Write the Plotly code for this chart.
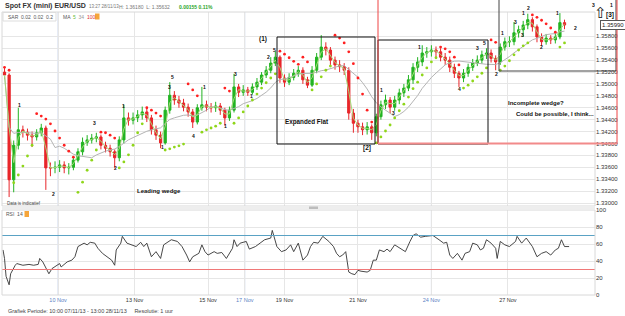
import plotly.graph_objects as go
import pandas as pd

# ---------------- data (EUR/USD, 3-hour candles) ----------------
candle_hour = list(range(1, 369, 3))  # hour index since 07/11/13 10:00 (weekend hours removed)

open_ = [1.3520, 1.3515, 1.3339, 1.3397, 1.3423, 1.3419, 1.3414, 1.3411, 1.3418, 1.3426,
         1.3359, 1.3359, 1.3360, 1.3364, 1.3359, 1.3360, 1.3372, 1.3386, 1.3402, 1.3406,
         1.3409, 1.3411, 1.3397, 1.3392, 1.3386, 1.3376, 1.3406, 1.3443, 1.3439, 1.3443,
         1.3448, 1.3453, 1.3443, 1.3423, 1.3414, 1.3401, 1.3456, 1.3481, 1.3473, 1.3468,
         1.3461, 1.3453, 1.3436, 1.3460, 1.3465, 1.3461, 1.3460, 1.3463, 1.3456, 1.3443,
         1.3456, 1.3495, 1.3486, 1.3490, 1.3486, 1.3495, 1.3503, 1.3515, 1.3523, 1.3535,
         1.3545, 1.3510, 1.3503, 1.3511, 1.3518, 1.3523, 1.3507, 1.3498, 1.3523, 1.3545,
         1.3562, 1.3557, 1.3540, 1.3532, 1.3529, 1.3523, 1.3451, 1.3434, 1.3428, 1.3423,
         1.3428, 1.3418, 1.3445, 1.3465, 1.3473, 1.3461, 1.3473, 1.3485, 1.3493, 1.3507,
         1.3528, 1.3537, 1.3552, 1.3554, 1.3557, 1.3554, 1.3545, 1.3540, 1.3528, 1.3518,
         1.3510, 1.3518, 1.3528, 1.3535, 1.3540, 1.3549, 1.3552, 1.3543, 1.3537, 1.3562,
         1.3571, 1.3571, 1.3586, 1.3591, 1.3599, 1.3608, 1.3596, 1.3579, 1.3571, 1.3577,
         1.3574, 1.3579, 1.3603]

close = [1.3515, 1.3339, 1.3397, 1.3423, 1.3419, 1.3414, 1.3411, 1.3418, 1.3426, 1.3359,
         1.3359, 1.3360, 1.3364, 1.3359, 1.3360, 1.3372, 1.3386, 1.3402, 1.3406, 1.3409,
         1.3411, 1.3397, 1.3392, 1.3386, 1.3376, 1.3406, 1.3443, 1.3439, 1.3443, 1.3448,
         1.3453, 1.3443, 1.3423, 1.3414, 1.3401, 1.3456, 1.3481, 1.3473, 1.3468, 1.3461,
         1.3453, 1.3436, 1.3460, 1.3465, 1.3461, 1.3460, 1.3463, 1.3456, 1.3443, 1.3456,
         1.3495, 1.3486, 1.3490, 1.3486, 1.3495, 1.3503, 1.3515, 1.3523, 1.3535, 1.3545,
         1.3510, 1.3503, 1.3511, 1.3518, 1.3523, 1.3507, 1.3498, 1.3523, 1.3545, 1.3562,
         1.3557, 1.3540, 1.3532, 1.3529, 1.3523, 1.3451, 1.3434, 1.3428, 1.3423, 1.3428,
         1.3418, 1.3445, 1.3465, 1.3473, 1.3461, 1.3473, 1.3485, 1.3493, 1.3507, 1.3528,
         1.3537, 1.3552, 1.3554, 1.3557, 1.3554, 1.3545, 1.3540, 1.3528, 1.3518, 1.3510,
         1.3518, 1.3528, 1.3535, 1.3540, 1.3549, 1.3552, 1.3543, 1.3537, 1.3562, 1.3571,
         1.3571, 1.3586, 1.3591, 1.3599, 1.3608, 1.3596, 1.3579, 1.3571, 1.3577, 1.3574,
         1.3579, 1.3603, 1.3599]

high = [1.3527, 1.3518, 1.3405, 1.3460, 1.3430, 1.3425, 1.3420, 1.3424, 1.3433, 1.3430,
        1.3368, 1.3370, 1.3372, 1.3370, 1.3367, 1.3378, 1.3392, 1.3410, 1.3414, 1.3416,
        1.3418, 1.3415, 1.3403, 1.3398, 1.3390, 1.3412, 1.3465, 1.3452, 1.3452, 1.3456,
        1.3462, 1.3460, 1.3448, 1.3430, 1.3420, 1.3462, 1.3503, 1.3488, 1.3480, 1.3475,
        1.3467, 1.3458, 1.3466, 1.3495, 1.3472, 1.3468, 1.3470, 1.3468, 1.3460, 1.3462,
        1.3517, 1.3500, 1.3498, 1.3495, 1.3501, 1.3510, 1.3520, 1.3530, 1.3545, 1.3555,
        1.3548, 1.3516, 1.3518, 1.3525, 1.3530, 1.3528, 1.3512, 1.3530, 1.3552, 1.3582,
        1.3570, 1.3562, 1.3546, 1.3540, 1.3535, 1.3528, 1.3458, 1.3440, 1.3435, 1.3436,
        1.3432, 1.3450, 1.3472, 1.3482, 1.3478, 1.3480, 1.3492, 1.3500, 1.3515, 1.3535,
        1.3545, 1.3565, 1.3562, 1.3565, 1.3563, 1.3560, 1.3552, 1.3546, 1.3534, 1.3522,
        1.3525, 1.3534, 1.3542, 1.3548, 1.3556, 1.3560, 1.3558, 1.3548, 1.3568, 1.3578,
        1.3580, 1.3604, 1.3598, 1.3606, 1.3618, 1.3612, 1.3600, 1.3585, 1.3584, 1.3582,
        1.3586, 1.3619, 1.3608]

low = [1.3508, 1.3310, 1.3318, 1.3390, 1.3410, 1.3405, 1.3394, 1.3405, 1.3412, 1.3322,
       1.3345, 1.3350, 1.3352, 1.3350, 1.3348, 1.3355, 1.3368, 1.3380, 1.3396, 1.3400,
       1.3402, 1.3390, 1.3385, 1.3378, 1.3359, 1.3370, 1.3400, 1.3430, 1.3432, 1.3436,
       1.3440, 1.3436, 1.3415, 1.3406, 1.3392, 1.3398, 1.3450, 1.3465, 1.3460, 1.3454,
       1.3445, 1.3426, 1.3432, 1.3455, 1.3454, 1.3452, 1.3453, 1.3448, 1.3430, 1.3438,
       1.3452, 1.3478, 1.3480, 1.3480, 1.3482, 1.3490, 1.3498, 1.3510, 1.3518, 1.3530,
       1.3502, 1.3495, 1.3498, 1.3506, 1.3512, 1.3500, 1.3493, 1.3495, 1.3518, 1.3540,
       1.3548, 1.3532, 1.3524, 1.3520, 1.3515, 1.3440, 1.3418, 1.3418, 1.3414, 1.3415,
       1.3406, 1.3412, 1.3440, 1.3458, 1.3451, 1.3455, 1.3466, 1.3478, 1.3488, 1.3500,
       1.3520, 1.3530, 1.3544, 1.3546, 1.3545, 1.3538, 1.3532, 1.3520, 1.3510, 1.3495,
       1.3503, 1.3512, 1.3522, 1.3530, 1.3534, 1.3542, 1.3536, 1.3523, 1.3532, 1.3556,
       1.3562, 1.3565, 1.3578, 1.3579, 1.3592, 1.3588, 1.3570, 1.3564, 1.3566, 1.3567,
       1.3568, 1.3575, 1.3592]

# Parabolic SAR dots as drawn (value per candle, trend flag: 1 = below price/green, 0 = above/red)
sar_value = [1.3528, 1.3523, 1.3334, 1.3347, 1.3362, 1.3379, 1.3397, 1.3450, 1.3446, 1.3441,
             1.3433, 1.3421, 1.3409, 1.3397, 1.3387, 1.3377, 1.3318, 1.3335, 1.3355, 1.3372,
             1.3389, 1.3419, 1.3418, 1.3414, 1.3409, 1.3359, 1.3369, 1.3381, 1.3397, 1.3418,
             1.3433, 1.3460, 1.3456, 1.3451, 1.3446, 1.3389, 1.3391, 1.3394, 1.3396, 1.3399,
             1.3500, 1.3490, 1.3480, 1.3419, 1.3423, 1.3426, 1.3429, 1.3434, 1.3493, 1.3488,
             1.3434, 1.3443, 1.3453, 1.3463, 1.3473, 1.3483, 1.3493, 1.3502, 1.3510, 1.3517,
             1.3555, 1.3550, 1.3544, 1.3538, 1.3533, 1.3545, 1.3537, 1.3490, 1.3500, 1.3512,
             1.3523, 1.3530, 1.3582, 1.3577, 1.3569, 1.3554, 1.3534, 1.3510, 1.3483, 1.3456,
             1.3436, 1.3401, 1.3411, 1.3421, 1.3431, 1.3443, 1.3455, 1.3466, 1.3478, 1.3492,
             1.3503, 1.3515, 1.3527, 1.3537, 1.3544, 1.3562, 1.3559, 1.3554, 1.3545, 1.3532,
             1.3493, 1.3498, 1.3505, 1.3512, 1.3518, 1.3527, 1.3574, 1.3570, 1.3523, 1.3530,
             1.3539, 1.3549, 1.3557, 1.3564, 1.3569, 1.3616, 1.3612, 1.3607, 1.3601, 1.3594,
             1.3587, 1.3562, 1.3569]
sar_up = [0, 0, 1, 1, 1, 1, 1, 0, 0, 0,
          0, 0, 0, 0, 0, 0, 1, 1, 1, 1,
          1, 0, 0, 0, 0, 1, 1, 1, 1, 1,
          1, 0, 0, 0, 0, 1, 1, 1, 1, 1,
          0, 0, 0, 1, 1, 1, 1, 1, 0, 0,
          1, 1, 1, 1, 1, 1, 1, 1, 1, 1,
          0, 0, 0, 0, 0, 0, 0, 1, 1, 1,
          1, 1, 0, 0, 0, 0, 0, 0, 0, 0,
          0, 1, 1, 1, 1, 1, 1, 1, 1, 1,
          1, 1, 1, 1, 1, 0, 0, 0, 0, 0,
          1, 1, 1, 1, 1, 1, 0, 0, 1, 1,
          1, 1, 1, 1, 1, 0, 0, 0, 0, 0,
          0, 1, 1]

rsi_hour = [0, 1, 2, 4, 5, 6, 8, 9, 13, 17, 20, 23, 24, 26, 29, 30, 32, 35, 37, 38, 42, 45, 47, 49,
            53, 55, 57, 60, 62, 65, 68, 71, 73, 74, 77, 78, 81, 84, 87, 90, 92, 94, 97, 100, 103,
            105, 107, 110, 114, 117, 120, 122, 124, 128, 130, 132, 134, 138, 140, 143, 146, 150,
            151, 153, 155, 159, 161, 165, 168, 171, 175, 176, 179, 182, 185, 188, 190, 193, 196,
            199, 201, 203, 206, 209, 213, 216, 218, 220, 222, 224, 225, 226, 228, 230, 232, 234,
            238, 240, 242, 244, 246, 249, 251, 253, 256, 260, 263, 266, 268, 270, 273, 276, 279,
            281, 285, 288, 290, 292, 294, 297, 300, 302, 305, 307, 310, 312, 314, 316, 319, 322,
            323, 325, 328, 331, 335, 336, 339, 342, 346, 349, 352, 355, 358, 361, 363, 365, 367, 370]
rsi_value = [53, 43, 22, 12, 25, 29, 35, 37, 35, 36, 35, 36, 43, 39, 27, 25, 31, 35, 37, 33, 39, 41, 45, 57,
             61, 59, 62, 61, 55, 49, 45, 41, 35, 53, 61, 69, 61, 59, 57, 62, 57, 61, 45, 51, 43,
             59, 61, 65, 63, 57, 47, 39, 45, 49, 59, 51, 47, 51, 49, 50, 43, 55,
             65, 57, 61, 63, 54, 57, 61, 65, 67, 76, 57, 51, 53, 59, 51, 61, 41,
             47, 57, 62, 61, 69, 63, 57, 49, 45, 47, 51, 39, 27, 25, 24, 29, 28,
             27, 29, 41, 41, 53, 51, 54, 51, 59, 55, 51, 63, 70, 72, 68, 69, 70,
             70, 65, 61, 62, 47, 43, 49, 41, 49, 51, 61, 59, 53, 55, 65, 61, 55,
             43, 63, 59, 57, 63, 69, 61, 67, 57, 45, 49, 51, 47, 53, 55, 65, 57, 57]

tick_hour = [36, 86, 134, 158, 184, 232, 280, 330]
tick_label = ["10 Nov", "13 Nov", "15 Nov", "17 Nov", "19 Nov", "21 Nov", "24 Nov", "27 Nov"]
tick_is_sunday = [True, False, False, True, False, False, True, False]

price_ticks = [1.330, 1.332, 1.334, 1.336, 1.338, 1.340, 1.342, 1.344, 1.346, 1.348,
               1.350, 1.352, 1.354, 1.356, 1.358]
rsi_ticks = [0, 20, 40, 60, 80, 100]
last_price = 1.35990

# ---------------- moving averages ----------------
cs = pd.Series(close)
ma_fast = cs.rolling(2, min_periods=1).mean()
ma_slow = cs.rolling(11, min_periods=1).mean()

# ---------------- geometry ----------------
W, H = 625, 316
L, R, T, B = 2, 30, 12, 21
PW, PH = W - L - R, H - T - B
def px(x): return (x - L) / PW
def py(y): return (H - B - y) / PH

FONT = "Liberation Sans, Arial, sans-serif"
RED, GREEN = "#e8262a", "#22b422"

fig = go.Figure()
fig.add_trace(go.Scatter(x=candle_hour, y=ma_slow, mode="lines", line=dict(color="#b4b4b4", width=1),
                         hoverinfo="skip", showlegend=False))
fig.add_trace(go.Scatter(x=candle_hour, y=ma_fast, mode="lines", line=dict(color="#a6d97a", width=1),
                         hoverinfo="skip", showlegend=False))
fig.add_trace(go.Scatter(x=[h for h, u in zip(candle_hour, sar_up) if not u],
                         y=[s for s, u in zip(sar_value, sar_up) if not u],
                         mode="markers", marker=dict(color="#ff2020", size=2.8),
                         hoverinfo="skip", showlegend=False))
fig.add_trace(go.Scatter(x=[h for h, u in zip(candle_hour, sar_up) if u],
                         y=[s for s, u in zip(sar_value, sar_up) if u],
                         mode="markers", marker=dict(color="#8fd61a", size=2.8),
                         hoverinfo="skip", showlegend=False))
fig.add_trace(go.Candlestick(x=candle_hour, open=open_, high=high, low=low, close=close,
                             increasing=dict(line=dict(color=GREEN, width=1), fillcolor=GREEN),
                             decreasing=dict(line=dict(color=RED, width=1), fillcolor=RED),
                             hoverinfo="skip", showlegend=False))
fig.add_trace(go.Scatter(x=rsi_hour, y=rsi_value, mode="lines", line=dict(color="#333333", width=0.9),
                         xaxis="x2", yaxis="y2", hoverinfo="skip", showlegend=False))

xr = [(L - 3) / 1.53, (L + PW - 3) / 1.53]
ptop = 1.33 + (203 - T) * 0.000168
pbot = 1.33 + (203 - 206) * 0.000168

tt = [f"<span style='color:#5b7fc4'>{t}</span>" if s else t for t, s in zip(tick_label, tick_is_sunday)]

fig.update_layout(
    width=W, height=H, margin=dict(l=L, r=R, t=T, b=B),
    paper_bgcolor="white", plot_bgcolor="white",
    font=dict(family=FONT, size=6, color="#333"),
    showlegend=False,
    xaxis=dict(domain=[0, 1], anchor="y", range=xr, tickvals=tick_hour, showticklabels=False,
               showgrid=True, gridcolor="#e6e6e6", gridwidth=1, zeroline=False,
               rangeslider=dict(visible=False), fixedrange=True),
    yaxis=dict(domain=[py(206), 1], anchor="x", side="right", range=[pbot, ptop],
               tickvals=price_ticks, ticktext=[f"{v:.5f}" for v in price_ticks],
               showgrid=True, gridcolor="#e6e6e6", zeroline=False, ticks="",
               tickfont=dict(size=6, color="#333")),
    xaxis2=dict(domain=[0, 1], anchor="y2", matches="x", range=xr, tickvals=tick_hour, ticktext=tt,
                showgrid=True, gridcolor="#e6e6e6", zeroline=False, ticks="",
                tickfont=dict(size=5.5, color="#333")),
    yaxis2=dict(domain=[0, py(210)], anchor="x2", side="right", range=[0, 100], tickvals=rsi_ticks,
                showgrid=True, gridcolor="#e6e6e6", zeroline=False, ticks="",
                tickfont=dict(size=6, color="#333")),
)

shapes = []
for h, s in zip(tick_hour, tick_is_sunday):
    if s:
        for yr in ("y domain", "y2 domain"):
            shapes.append(dict(type="line", xref="x", yref=yr, x0=h, x1=h, y0=0, y1=1,
                               line=dict(color="#c4d0e6", width=1), layer="below"))
shapes.append(dict(type="line", xref="x2 domain", yref="y2", x0=0, x1=1, y0=70, y1=70,
                   line=dict(color="#5aa2c4", width=1.2)))
shapes.append(dict(type="line", xref="x2 domain", yref="y2", x0=0, x1=1, y0=30, y1=30,
                   line=dict(color="#f07878", width=1.2)))
shapes.append(dict(type="rect", xref="paper", yref="paper", x0=0, x1=1, y0=py(206), y1=1,
                   line=dict(color="#d8d8d8", width=1)))
shapes.append(dict(type="rect", xref="paper", yref="paper", x0=0, x1=1, y0=0, y1=py(210),
                   line=dict(color="#d8d8d8", width=1)))
shapes.append(dict(type="rect", xref="paper", yref="paper", x0=0, x1=1, y0=py(209.5), y1=py(206),
                   fillcolor="#eeeeee", line=dict(width=0)))
shapes.append(dict(type="rect", xref="paper", yref="paper", x0=px(309), x1=px(318), y0=py(209), y1=py(206.5),
                   fillcolor="#bdbdbd", line=dict(width=0)))
shapes.append(dict(type="rect", xref="paper", yref="paper", x0=px(277), x1=px(375), y0=py(144), y1=py(37),
                   line=dict(color="#111", width=1)))
shapes.append(dict(type="rect", xref="paper", yref="paper", x0=px(378), x1=px(488), y0=py(144), y1=py(40),
                   line=dict(color="#111", width=1)))
shapes.append(dict(type="rect", xref="paper", yref="paper", x0=px(499), x1=px(616), y0=py(71), y1=py(-2),
                   line=dict(color="#444", width=1)))
shapes.append(dict(type="line", xref="paper", yref="paper", x0=px(378), x1=px(378), y0=py(144), y1=py(-2),
                   line=dict(color="#ee4444", width=1)))
shapes.append(dict(type="line", xref="paper", yref="paper", x0=px(617), x1=px(617), y0=py(144), y1=py(-2),
                   line=dict(color="#ee4444", width=1)))
shapes.append(dict(type="line", xref="paper", yref="paper", x0=px(378), x1=px(617), y0=py(143.5), y1=py(143.5),
                   line=dict(color="#f28a8a", width=2)))
shapes.append(dict(type="rect", xref="paper", yref="paper", x0=px(3), x1=px(56), y0=py(21), y1=py(12.5),
                   line=dict(color="#dddddd", width=1), fillcolor="white"))
shapes.append(dict(type="rect", xref="paper", yref="paper", x0=px(95), x1=px(99.5), y0=py(19.5), y1=py(13.5),
                   fillcolor="#f5a53a", line=dict(width=0)))
shapes.append(dict(type="rect", xref="paper", yref="paper", x0=px(24.5), x1=px(29), y0=py(217), y1=py(211),
                   fillcolor="#f5a53a", line=dict(width=0)))
fig.update_layout(shapes=shapes)

ann = []
def txt(x, y, s, size=6, color="#222", anchor="left", bold=False, **kw):
    ann.append(dict(xref="paper", yref="paper", x=px(x), y=py(y), text=(f"<b>{s}</b>" if bold else s),
                    showarrow=False, xanchor=anchor, yanchor="middle",
                    font=dict(size=size, color=color, family=FONT), **kw))

# header
txt(3, 6, "Spot FX (mini) EUR/USD", size=7, color="#333", bold=True)
txt(87, 6.5, "13:27 28/11/13", size=4.5, color="#777")
txt(117, 6.5, "H: 1.36180  L: 1.35632", size=5, color="#777")
txt(177, 6.5, "0.00155 0.11%", size=5, color="#2aa52a", bold=True)
txt(6, 16.5, "SAR  0.02  0.02  0.2", size=5, color="#555")
txt(61, 16.5, "MA  <span style='color:#66bb33'>5</span>  <span style='color:#999'>34</span>  "
    "<span style='color:#e03030'>100</span>", size=5, color="#555")
txt(4, 214, "RSI  14", size=5, color="#555")
txt(5, 203, "Data is indicatief", size=4.5, color="#444")
txt(6, 310.5, "Grafiek Periode: 10:00 07/11/13 - 13:00 28/11/13     Resolutie: 1 uur", size=5.5, color="#444")
# chart notes
txt(283, 122, "Expanded Flat", size=6.3, color="#111", bold=True)
txt(135, 191, "Leading wedge", size=6, color="#111", bold=True)
txt(506, 103, "Incomplete wedge?", size=6, color="#111", bold=True)
txt(514, 114, "Could be possible, I think...", size=6, color="#111", bold=True)
txt(263, 39, "(1)", size=6.5, color="#111", anchor="center", bold=True)
txt(367, 148, "[2]", size=6.5, color="#111", anchor="center", bold=True)
txt(610, 15, "[3]", size=6.5, color="#111", anchor="center", bold=True)
txt(600, 12, "⇧", size=15, color="#111", anchor="center")
# wave counts
waves = [(19, 105, "1"), (53, 194, "2"), (94, 123, "3"), (116, 168, "2"), (123, 106, "1"), (162, 147, "1"),
         (172, 77, "5"), (169, 87, "3"), (193, 136, "4"), (204, 87, "1"), (225, 126, "1"), (235, 74, "3"),
         (251, 96, "1"), (268, 57, "2"), (274, 50, "5"), (381, 90, "1"), (393, 113, "3"), (419, 47, "1"),
         (459, 89, "4"), (477, 48, "3"), (484, 43, "5"), (496, 74, "2"), (503, 33, "1"), (515, 22, "3"),
         (523, 13, "1"), (528, 8, "2"), (522, 35, "3"), (541, 47, "2"), (557, 13, "1"), (575, 28, "2"),
         (593, 5, "3"), (611, 5, "1")]
for x, y, s in waves:
    txt(x, y, s, size=5, color="#111", anchor="center", bold=True)
ann.append(dict(xref="paper", yref="y", x=px(600), y=last_price, text=f"{last_price:.5f}", showarrow=False,
                xanchor="left", yanchor="middle", font=dict(size=6, color="#222", family=FONT),
                bgcolor="white", bordercolor="#555", borderwidth=1, borderpad=1))
fig.update_layout(annotations=ann)

fig.write_html("out.html")
